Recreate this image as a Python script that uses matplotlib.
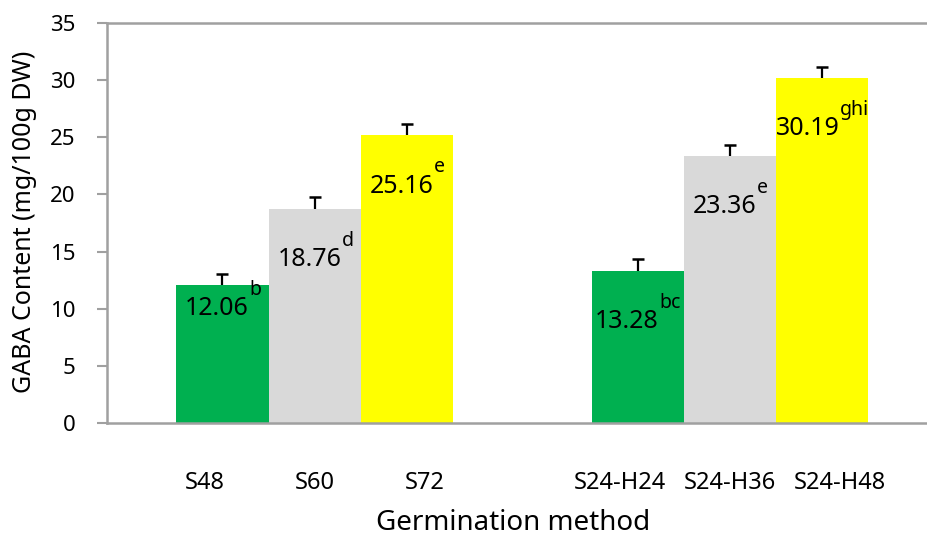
import numpy as np
import matplotlib
matplotlib.use("Agg")
import matplotlib.pyplot as plt
from matplotlib.textpath import TextPath
from matplotlib.font_manager import FontProperties

plt.rcParams['font.family'] = ['Noto Sans', 'DejaVu Sans']

# data
methods = ['S48', 'S60', 'S72', 'S24-H24', 'S24-H36', 'S24-H48']
gaba = [12.06, 18.76, 25.16, 13.28, 23.36, 30.19]
gaba_err = [1.0, 1.0, 1.0, 1.05, 1.0, 1.0]
letters = ['b', 'd', 'e', 'bc', 'e', 'ghi']
colors = ['#00B050', '#D9D9D9', '#FFFF00', '#00B050', '#D9D9D9', '#FFFF00']

# layout: two groups of three bars
bar_w = 0.222
group = [0, 0, 0, 1, 1, 1]
slot = [-1, 0, 1, -1, 0, 1]
x = np.array([g + s * bar_w for g, s in zip(group, slot)])
label_x = np.array([g + s * 0.265 for g, s in zip(group, slot)])
label_drop = [2.6, 5.0, 5.0, 5.0, 5.0, 5.0]

axis_col = '#A0A0A0'

fig = plt.figure(figsize=(9.27, 5.38), dpi=100)
ax = fig.add_axes([107 / 927, 1 - 423 / 538, 820 / 927, 400 / 538])

ax.bar(x, gaba, width=bar_w, color=colors, zorder=2)

# upper error bars only
ax.vlines(x, gaba, np.array(gaba) + np.array(gaba_err), color='black', lw=1.6, zorder=3)
ax.plot(x, np.array(gaba) + np.array(gaba_err), ls='none', marker='_', ms=9,
        mew=1.8, color='black', zorder=3)

ax.set_xlim(-0.5, 1.475)
ax.set_ylim(0, 35)
ax.set_yticks(np.arange(0, 36, 5))
ax.tick_params(axis='y', direction='out', length=7.5, width=1.5, color=axis_col,
               labelsize=16, pad=15)
ax.set_xticks([0, 1])
ax.set_xticklabels(['', ''])
ax.tick_params(axis='x', direction='in', length=5, width=1.5, color=axis_col)

for side in ['left', 'bottom', 'top']:
    ax.spines[side].set_color(axis_col)
    ax.spines[side].set_linewidth(1.8)
ax.spines['right'].set_visible(False)

# value labels with superscript letters
fp_main = FontProperties(family='Noto Sans', size=18)
fp_sup = FontProperties(family='Noto Sans', size=14)
for xi, v, let, drop in zip(x, gaba, letters, label_drop):
    num = f'{v:.2f}'
    wn = TextPath((0, 0), num, prop=fp_main).get_extents().x1
    ws = TextPath((0, 0), let, prop=fp_sup).get_extents().x1
    total = wn + ws + 1
    ax.annotate(num, xy=(xi, v - drop), xytext=(-total / 2, 0), textcoords='offset points',
                ha='left', va='baseline', fontsize=18, zorder=4)
    ax.annotate(let, xy=(xi, v - drop), xytext=(-total / 2 + wn + 1, 14.5),
                textcoords='offset points', ha='left', va='baseline', fontsize=14, zorder=4)

# category labels under bars
for lx, m in zip(label_x, methods):
    ax.text(lx, -0.165, m, transform=ax.get_xaxis_transform(), ha='center',
            va='baseline', fontsize=17)

ax.text((513 - 107) / 820, -0.267, 'Germination method', transform=ax.transAxes,
        ha='center', va='baseline', fontsize=20)
ax.text(-0.101, 0.5025, 'GABA Content (mg/100g DW)', transform=ax.transAxes,
        rotation=90, ha='center', va='center', fontsize=18)

fig.savefig('out.png', dpi=100)
